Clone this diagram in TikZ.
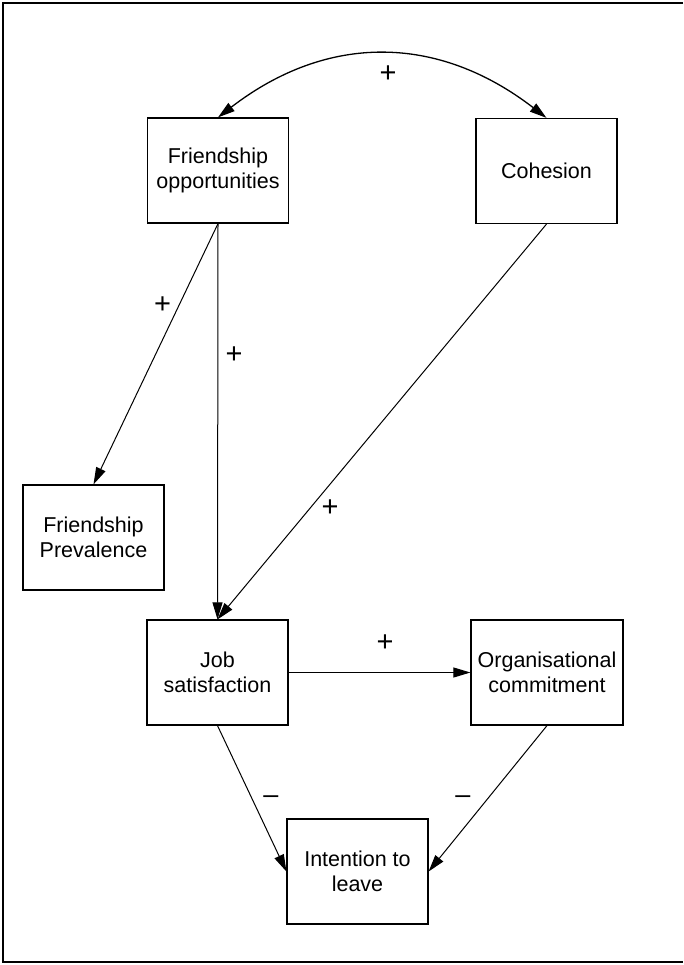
\documentclass[tikz,border=0pt]{standalone}
\usepackage{fontspec}
\setmainfont{Liberation Sans}
\usetikzlibrary{arrows.meta}
\begin{document}
\begin{tikzpicture}[x=1pt,y=-1pt,
  box/.style={draw, line width=1.2pt, minimum width=141pt, minimum height=105pt,
    inner sep=0pt, align=center, font=\fontsize{21.5}{25}\selectfont},
  conn/.style={line width=1pt, -{Triangle[length=17pt,width=10pt]}},
  biconn/.style={line width=1.3pt, {Triangle[length=17pt,width=10pt]}-{Triangle[length=17pt,width=10pt]}},
  sign/.style={font=\fontsize{29}{29}\selectfont, inner sep=0pt},
  minus/.style={font=\fontsize{27}{27}\selectfont, inner sep=0pt}]
\useasboundingbox (0,0) rectangle (683,965);
\draw[line width=2.5pt] (683,3) -- (3,3) -- (3,962) -- (683,962);

\node[box] (fo) at (218,170.5) {Friendship\\opportunities};
\node[box] (co) at (546.5,171) {Cohesion};
\node[box] (fp) at (93.5,537.5) {Friendship\\Prevalence};
\node[box] (js) at (217.5,672.5) {Job\\satisfaction};
\node[box, minimum width=152pt] (oc) at (547,672.5) {Organisational\\commitment};
\node[box] (il) at (357.5,871.5) {Intention to\\leave};

\draw[biconn] (fo.north) .. controls +(109,-84) and +(-109,-84) .. (co.north);
\draw[conn] (fo.south) -- (fp.north);
\draw[conn] (fo.south) -- (js.north);
\draw[conn] (co.south) -- (js.north);
\draw[conn] (js.east) -- (oc.west);
\draw[conn] (js.south) -- (il.west);
\draw[conn] (oc.south) -- (il.east);

\node[sign] (l1) at (388,74) {+};
\node[sign] (l2) at (162.5,305) {+};
\node[sign] (l3) at (234,355) {+};
\node[sign] (l4) at (330,508) {+};
\node[sign] (l5) at (385,643) {+};
\node[minus] (l6) at (271,800) {–};
\node[minus] (l7) at (463,800) {–};
\end{tikzpicture}
\end{document}
